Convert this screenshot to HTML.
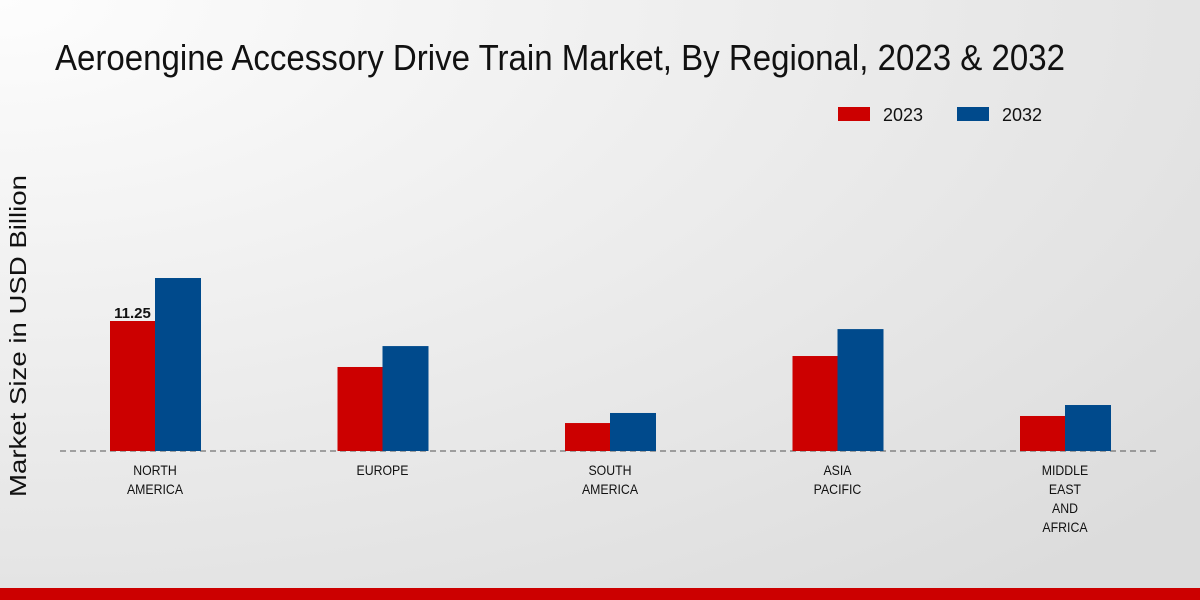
<!DOCTYPE html>
<html><head><meta charset="utf-8"><style>
html,body{margin:0;padding:0;width:1200px;height:600px;overflow:hidden}
svg{display:block;font-family:"Liberation Sans",sans-serif}
</style></head><body>
<svg id="chart" width="1200" height="600">
<defs><radialGradient id="bg" cx="0" cy="0" r="1.3"><stop offset="0" stop-color="#fdfdfd"/><stop offset="1" stop-color="#dcdcdc"/></radialGradient></defs>
<rect width="1200" height="600" fill="url(#bg)"/>
<text x="55" y="70" font-size="36" textLength="1010" lengthAdjust="spacingAndGlyphs" fill="#111">Aeroengine Accessory Drive Train Market, By Regional, 2023 &amp; 2032</text>
<g>
<rect x="838" y="107" width="32" height="14" fill="#cc0000"/>
<text x="883" y="121" font-size="18" textLength="40" lengthAdjust="spacingAndGlyphs" fill="#111">2023</text>
<rect x="957" y="107" width="32" height="14" fill="#004a8c"/>
<text x="1002" y="121" font-size="18" textLength="40" lengthAdjust="spacingAndGlyphs" fill="#111">2032</text>
</g>
<text transform="translate(26,336) rotate(-90)" text-anchor="middle" font-size="23" textLength="322" lengthAdjust="spacingAndGlyphs" fill="#111">Market Size in USD Billion</text>
<line x1="60" y1="451" x2="1160" y2="451" stroke="#555" stroke-dasharray="6,4"/>
<g id="bars"></g>
<rect x="0" y="588" width="1200" height="12" fill="#cc0000"/>
</svg>
<script>
const categories=[["NORTH","AMERICA"],["EUROPE"],["SOUTH","AMERICA"],["ASIA","PACIFIC"],["MIDDLE","EAST","AND","AFRICA"]];
const values2023=[11.25,7.27,2.42,8.22,3.03];
const values2032=[14.97,9.08,3.29,10.55,3.98];
const labelShown=["11.25",null,null,null,null];
const NS="http://www.w3.org/2000/svg";
const g=document.getElementById("bars");
const base=451, pxPer=130/11.25;
function y(v){return base-v*pxPer;}
function cx(i){return 155+i*227.5;}
function mk(t,a){const e=document.createElementNS(NS,t);for(const k in a)e.setAttribute(k,a[k]);g.appendChild(e);return e;}
categories.forEach((c,i)=>{
  const r=mk("rect",{x:cx(i)-45,y:y(values2023[i]),width:45,height:base-y(values2023[i]),fill:"#cc0000"});
  
  
  const b=mk("rect",{x:cx(i),y:y(values2032[i]),width:46,height:base-y(values2032[i]),fill:"#004a8c"});
  
  
  if(labelShown[i]){
    const t=mk("text",{x:cx(i)-22.5,y:y(values2023[i])-3,"text-anchor":"middle","font-size":"15","font-weight":"bold",fill:"#111"});
    t.textContent=labelShown[i];
    
    
  }
  c.forEach((line,j)=>{
    const t=mk("text",{x:cx(i),y:475+j*19,"text-anchor":"middle","font-size":"14",fill:"#111",transform:"translate("+cx(i)+",0) scale(0.88,1) translate("+(-cx(i))+",0)"});
    t.textContent=line;
    
    
  });
});
</script>
</body></html>
